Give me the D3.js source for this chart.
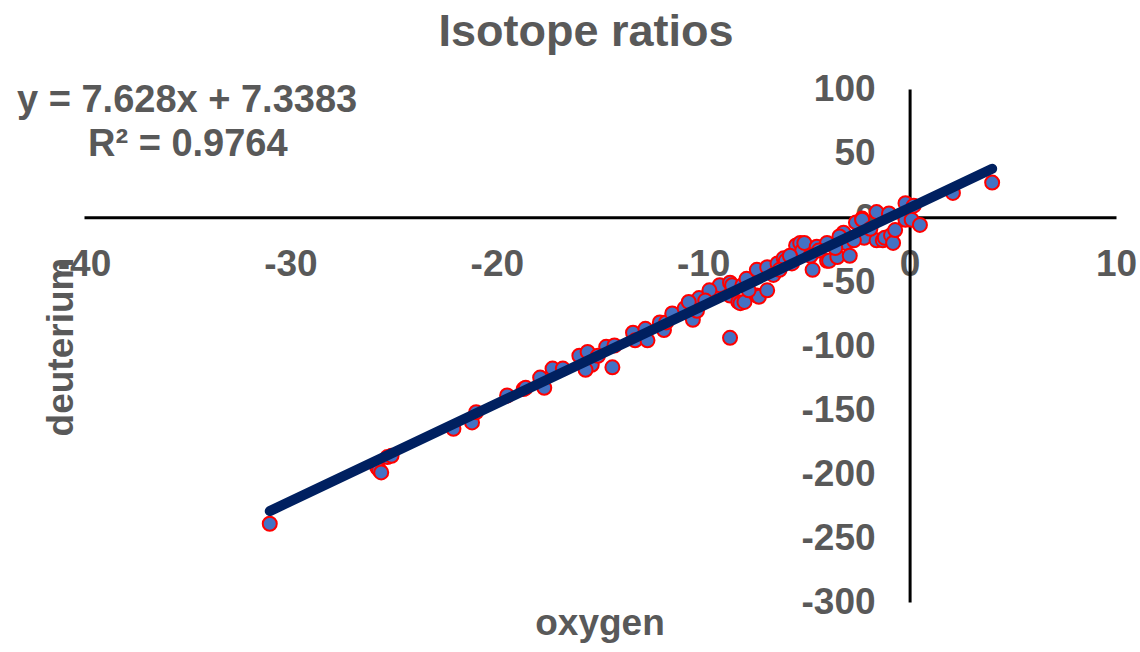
<!DOCTYPE html>
<html>
<head>
<meta charset="utf-8">
<script src="https://cdn.jsdelivr.net/npm/d3@7"></script>
<style>
  body { margin: 0; background: white; }
  text { font-family: "Liberation Sans", Arial, sans-serif; font-weight: bold; fill: #595959; }
</style>
</head>
<body>
<div id="chart"></div>
<script>
// oxygen (d18O) values
let oxygen = [-31.0, -25.8, -25.7, -25.6, -25.3, -25.1, -22.1, -21.2, -21.0, -19.5,
  -18.7, -18.6, -17.9, -17.7, -17.3, -16.8, -16.0, -15.6, -15.4, -15.7,
  -14.7, -14.4, -13.4, -13.3, -12.8, -12.7, -12.1, -11.9, -11.8, -11.5,
  -10.9, -10.5, -10.2, -10.3, -9.4, -9.2, -8.7, -8.7, -8.7, -8.6,
  -8.3, -8.2, -8.0, -8.1, -7.9, -7.4, -7.4, -7.3, -6.9, -6.9,
  -6.6, -6.4, -6.1, -6.0, -5.7, -5.5, -5.5, -5.3, -5.2, -5.1,
  -4.7, -4.5, -4.0, -4.0, -3.9, -3.5, -3.2, -3.1, -2.9, -2.6,
  -2.3, -2.3, -2.2, -1.6, -1.6, -1.3, -1.2, -1.0, -0.9, -0.8,
  -0.7, -0.2, -0.2, 0.1, 0.2, 0.5, 2.1, 4.0,
  -9.7, -7.8, -6.3, -5.8, -4.8, -4.4, -3.6, -3.4, -2.7, -1.9, -10.7, -9.9, -14.3, -15.1];

// deuterium (dD) values
let deuterium = [-239, -195, -197, -199, -187, -186, -165, -160, -152, -139,
  -134, -133, -125, -133, -118, -118, -108, -105, -115, -119,
  -101, -117, -90, -96, -87, -96, -82, -88, -82, -75,
  -71, -80, -63, -73, -59, -53, -51, -61, -94, -53,
  -66, -67, -66, -53, -48, -41, -61, -62, -57, -39,
  -45, -36, -32, -34, -36, -28, -22, -20, -26, -20,
  -41, -23, -20, -34, -34, -31, -12, -20, -30, -4,
  -1, -2, -16, 4, -18, -18, -16, 3, -14, -20,
  -10, 11, -2, -2, 9, -6, 19, 27,
  -57, -57, -41, -30, -30, -26, -24, -15, -18, -9, -66, -65, -100, -108];

let fitSlope = 7.628;
let fitIntercept = 7.3383;
let fitR2 = 0.9764;

let xTicks = [-40, -30, -20, -10, 0, 10];
let yTicks = [-300, -250, -200, -150, -100, -50, 0, 50, 100];

let points = oxygen.map((d, i) => ({x: d, y: deuterium[i]}));

let svg = d3.select('#chart').append('svg')
    .attr('width', 1140)
    .attr('height', 652);

let x = d3.scaleLinear().domain([-40, 10]).range([84, 1116]);
let y = d3.scaleLinear().domain([-300, 100]).range([602, 89]);

// x axis sits on y = 0
let xAxis = svg.append('g')
    .attr('transform', 'translate(0,' + y(0) + ')')
    .call(d3.axisBottom(x).tickValues(xTicks).tickSize(0).tickPadding(32).tickFormat(d => String(d)));

// y axis sits on x = 0
let yAxis = svg.append('g')
    .attr('transform', 'translate(' + x(0) + ',0)')
    .call(d3.axisLeft(y).tickValues(yTicks).tickSize(0).tickPadding(34).tickFormat(d => String(d)));

[xAxis, yAxis].forEach(function(ax){
    ax.select('.domain').attr('stroke', 'black').attr('stroke-width', 3);
    ax.selectAll('text')
        .style('font-size', '37px')
        .style('font-family', '"Liberation Sans", Arial, sans-serif')
        .style('font-weight', 'bold')
        .attr('fill', '#595959');
});

// points
svg.append('g').selectAll('circle')
    .data(points)
    .join('circle')
    .attr('cx', d => x(d.x))
    .attr('cy', d => y(d.y))
    .attr('r', 7)
    .attr('fill', '#4472C4')
    .attr('stroke', '#FF0000')
    .attr('stroke-width', 2);

// linear trend line across the data range
let ext = d3.extent(oxygen);
svg.append('line')
    .attr('x1', x(ext[0]))
    .attr('y1', y(fitSlope * ext[0] + fitIntercept))
    .attr('x2', x(ext[1]))
    .attr('y2', y(fitSlope * ext[1] + fitIntercept))
    .attr('stroke', '#002060')
    .attr('stroke-width', 10)
    .attr('stroke-linecap', 'round');

// title
svg.append('text')
    .attr('x', 586)
    .attr('y', 46)
    .attr('text-anchor', 'middle')
    .style('font-size', '45px')
    .text('Isotope ratios');

// equation label
svg.append('text')
    .attr('x', 17)
    .attr('y', 112)
    .style('font-size', '38px')
    .text('y = ' + fitSlope + 'x + ' + fitIntercept);
svg.append('text')
    .attr('x', 88)
    .attr('y', 156)
    .style('font-size', '38px')
    .text('R² = ' + fitR2);

// axis titles
svg.append('text')
    .attr('x', 600)
    .attr('y', 635)
    .attr('text-anchor', 'middle')
    .style('font-size', '37px')
    .text('oxygen');

svg.append('text')
    .attr('transform', 'translate(73,347) rotate(-90)')
    .attr('text-anchor', 'middle')
    .style('font-size', '37px')
    .text('deuterium');
</script>
</body>
</html>
